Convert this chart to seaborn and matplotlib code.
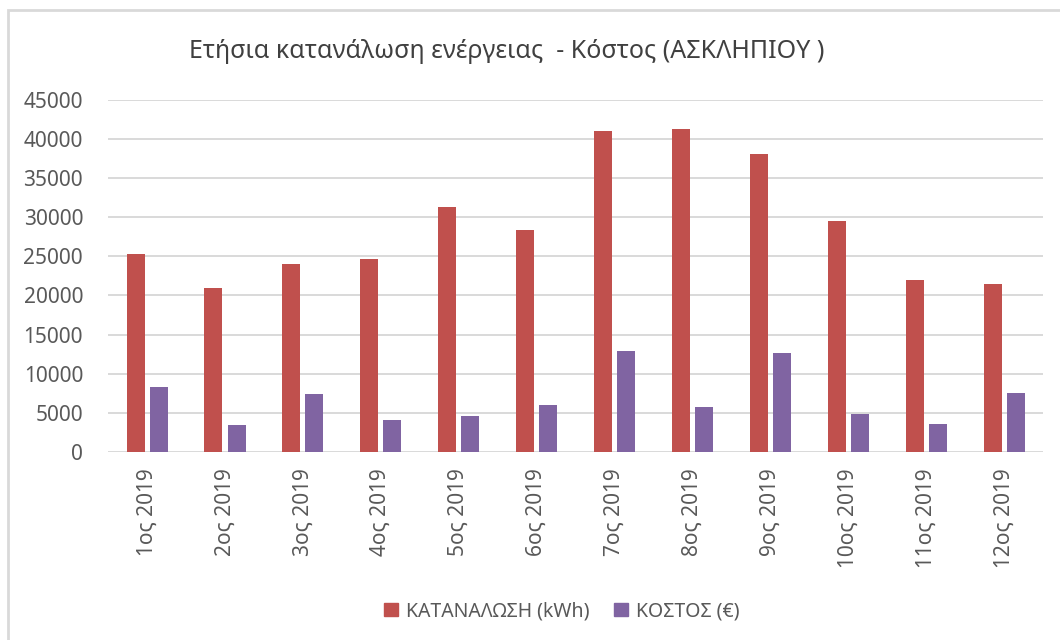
import pandas as pd
import matplotlib
matplotlib.use("Agg")
import matplotlib.pyplot as plt
from matplotlib.patches import Rectangle
import seaborn as sns

# Δεδομένα (εκτίμηση από το γράφημα)
months = ["1ος 2019", "2ος 2019", "3ος 2019", "4ος 2019", "5ος 2019", "6ος 2019",
          "7ος 2019", "8ος 2019", "9ος 2019", "10ος 2019", "11ος 2019", "12ος 2019"]
consumption = [25300, 20900, 24000, 24600, 31300, 28400, 41000, 41300, 38100, 29500, 22000, 21500]
cost = [8300, 3400, 7400, 4100, 4600, 6000, 12900, 5700, 12600, 4800, 3500, 7500]
series_names = ["ΚΑΤΑΝΑΛΩΣΗ (kWh)", "ΚΟΣΤΟΣ (€)"]
colors = ["#C0504D", "#8064A2"]

df = pd.concat([
    pd.DataFrame({"month": months, "value": consumption, "series": series_names[0]}),
    pd.DataFrame({"month": months, "value": cost, "series": series_names[1]}),
])

sns.set_style("white")
plt.rcParams["font.family"] = ["Noto Sans", "DejaVu Sans"]

fig = plt.figure(figsize=(10.6, 6.4), dpi=100)
ax = fig.add_axes([0.102, 0.294, 0.882, 0.55])

sns.barplot(data=df, x="month", y="value", hue="series", order=months,
            hue_order=series_names, palette=colors, saturation=1,
            width=0.592, gap=0.22, linewidth=0, ax=ax)

ax.set_ylim(0, 45000)
ax.set_yticks(range(0, 45001, 5000))
ax.set_xlim(-0.5, len(months) - 0.5)
ax.yaxis.grid(True, color="#D9D9D9", linewidth=1.4)
ax.set_axisbelow(True)
for s in ax.spines.values():
    s.set_visible(False)
ax.set_xlabel("")
ax.set_ylabel("")
ax.tick_params(axis="both", length=0, colors="#595959")
ax.tick_params(axis="y", pad=18, labelsize=15)
ax.tick_params(axis="x", pad=12, labelsize=15)
plt.setp(ax.get_xticklabels(), rotation=90)

ax.get_legend().remove()
handles = [Rectangle((0, 0), 1, 1, color=c) for c in colors]
fig.legend(handles, series_names, loc="center", bbox_to_anchor=(0.53, 0.045),
           ncol=2, frameon=False, fontsize=14, handlelength=0.7, handleheight=0.7,
           handletextpad=0.4, columnspacing=1.3, labelcolor="#595959")

fig.text(0.478, 0.92, "Ετήσια κατανάλωση ενέργειας  - Κόστος (ΑΣΚΛΗΠΙΟΥ )",
         ha="center", va="center", fontsize=18, color="#404040")

# πλαίσιο γραφήματος
fig.patches.append(Rectangle((8 / 1060, -0.1), 1.2, 1.1 - 10 / 640,
                             transform=fig.transFigure, fill=False,
                             edgecolor="#D9D9D9", linewidth=2))

fig.savefig("out.png", dpi=100)
